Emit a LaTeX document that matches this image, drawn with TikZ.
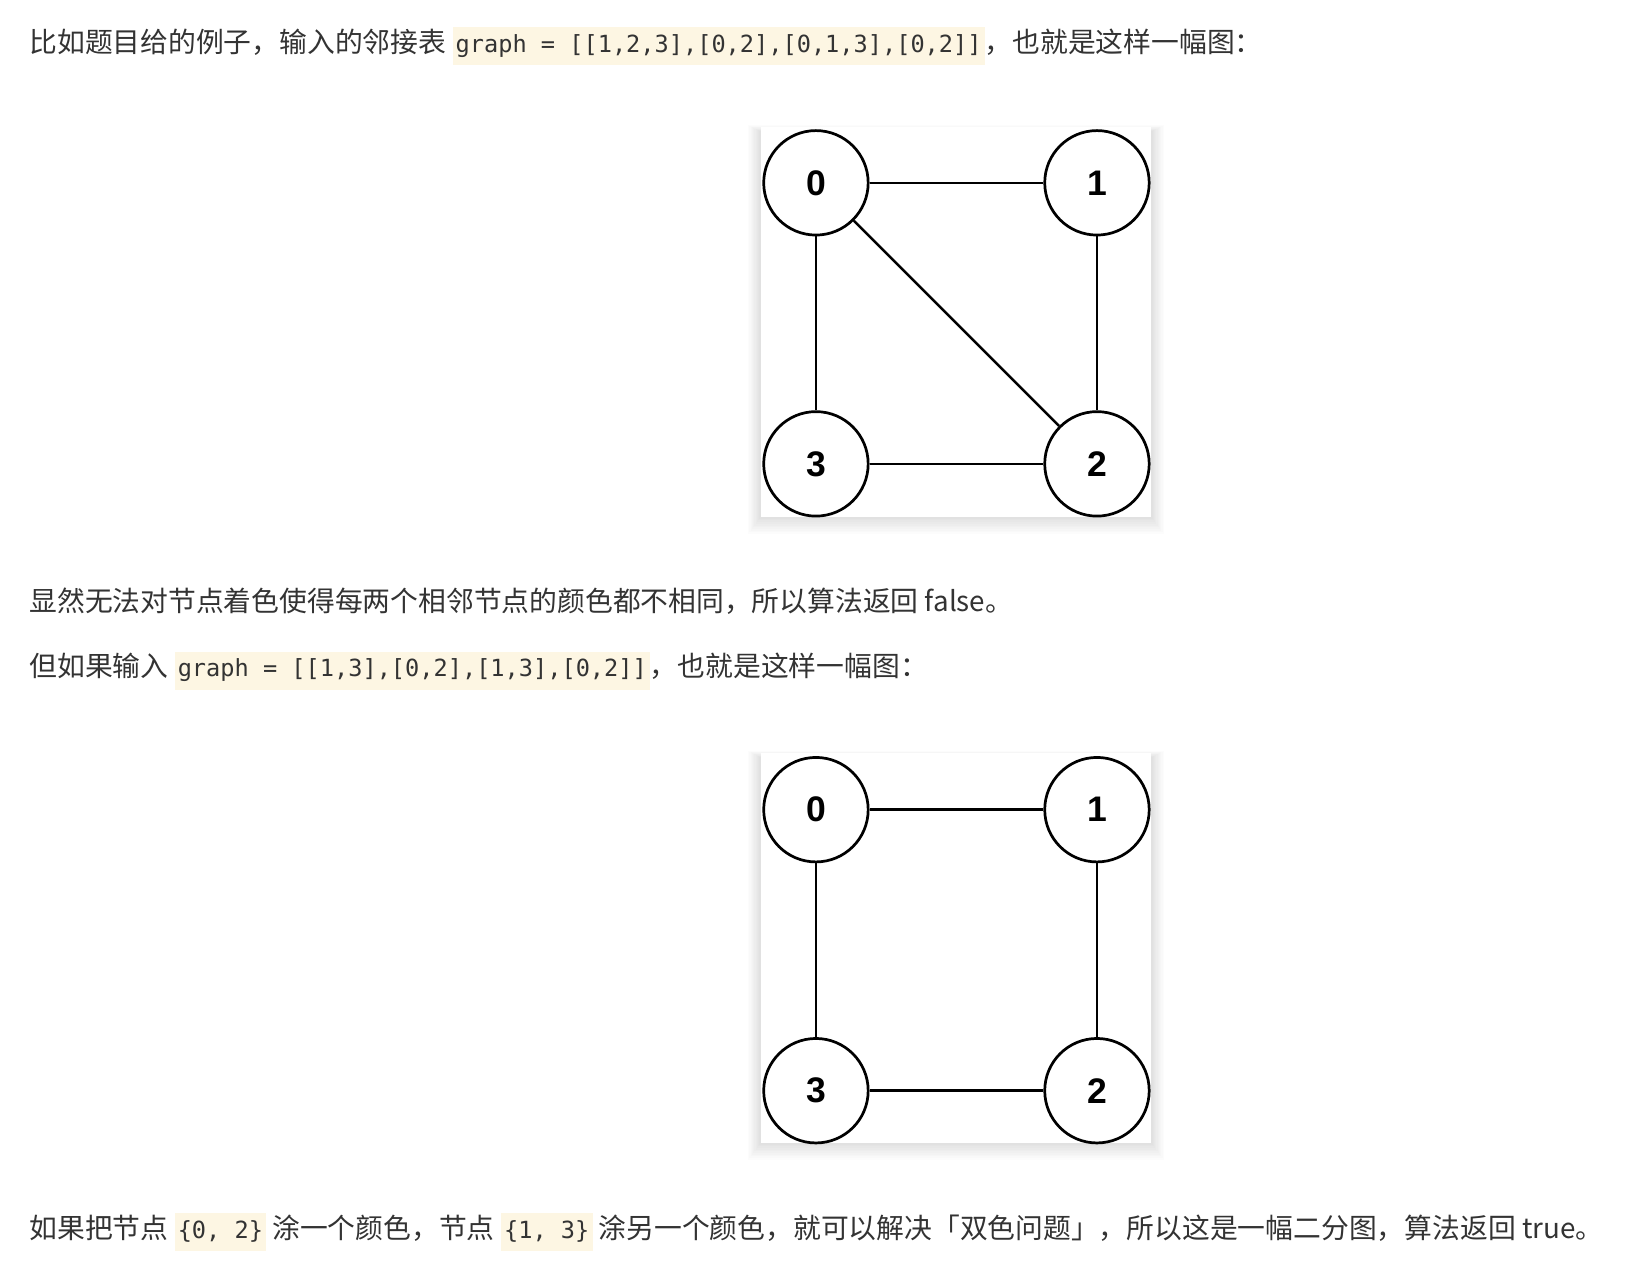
\documentclass[tikz,border=0pt]{standalone}
\usepackage{fontspec}
\setmainfont{Noto Sans CJK SC}
\setmonofont{DejaVu Sans Mono}
\newfontfamily\lab{Liberation Sans}
\definecolor{txt}{HTML}{333333}
\definecolor{codebg}{HTML}{FDF6E3}
\newcommand\cb[1]{{\setlength{\fboxsep}{3pt}\colorbox{codebg}{\strut\ttfamily\fontsize{22.6}{26}\selectfont #1}}}
\newcommand\panelat[4]{\foreach \k in {1,...,10}{\fill[black,opacity=0.012] ({#1-\k*1.2},{#2-\k*0.6+4}) rectangle ({#3+\k*1.2},{#4+\k*1.6});}\fill[white] (#1,#2) rectangle (#3,#4);}
\begin{document}
\begin{tikzpicture}[x=1pt,y=-1pt,
  line/.style={anchor=base west,inner sep=0,text=txt,font=\fontsize{26.6}{30}\selectfont},
  vtx/.style={circle,draw,line width=2.6pt,minimum size=100pt,inner sep=0,font=\lab\bfseries\fontsize{34}{34}\selectfont},
  edge/.style={line width=2.4pt}]
\fill[white] (0,0) rectangle (1565,1208);
\node[line] (l1) at (28,50) {比如题目给的例子，输入的邻接表 \cb{graph = [[1,2,3],[0,2],[0,1,3],[0,2]]}，也就是这样一幅图：};
\node[line] (l2) at (28,585) {显然无法对节点着色使得每两个相邻节点的颜色都不相同，所以算法返回 false。};
\node[line] (l3) at (28,648) {但如果输入 \cb{graph = [[1,3],[0,2],[1,3],[0,2]]}，也就是这样一幅图：};
\node[line] (l4) at (28,1185) {如果把节点 \cb{\{0, 2\}} 涂一个颜色，节点 \cb{\{1, 3\}} 涂另一个颜色，就可以解决「双色问题」，所以这是一幅二分图，算法返回 true。};
% graph 1
\panelat{728}{122}{1102}{495}
\node[vtx] (a0) at (781,175) {0};
\node[vtx] (a1) at (1050,175) {1};
\node[vtx] (a2) at (1050,444) {2};
\node[vtx] (a3) at (781,444) {3};
\draw[edge] (a0)--(a1); \draw[edge] (a0)--(a3); \draw[edge] (a0)--(a2);
\draw[edge] (a1)--(a2); \draw[edge] (a3)--(a2);
% graph 2
\panelat{728}{721}{1102}{1094}
\node[vtx] (b0) at (781,775) {0};
\node[vtx] (b1) at (1050,775) {1};
\node[vtx] (b2) at (1050,1044) {2};
\node[vtx] (b3) at (781,1044) {3};
\draw[edge] (b0)--(b1); \draw[edge] (b0)--(b3);
\draw[edge] (b1)--(b2); \draw[edge] (b3)--(b2);
\end{tikzpicture}
\end{document}
